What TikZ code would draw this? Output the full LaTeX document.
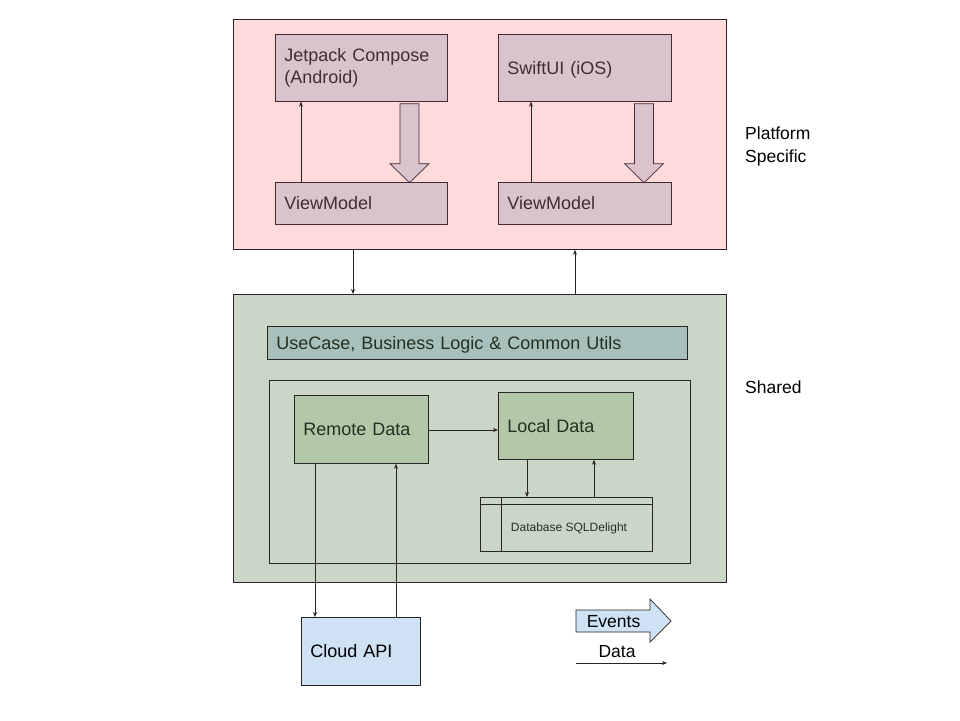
\documentclass[tikz,border=0pt]{standalone}
\usepackage{fontspec}
\setmainfont{Liberation Sans}
\usetikzlibrary{calc,arrows.meta}
\definecolor{pinkbg}{RGB}{255,218,218}
\definecolor{mauve}{RGB}{219,195,206}
\definecolor{greenbg}{RGB}{202,214,198}
\definecolor{usecase}{RGB}{168,192,188}
\definecolor{datag}{RGB}{178,200,169}
\definecolor{cloud}{RGB}{207,226,243}
\definecolor{pinktxt}{RGB}{66,44,50}
\definecolor{greentxt}{RGB}{36,48,34}
\definecolor{edge}{RGB}{40,36,36}
\tikzset{
  region/.style={draw=edge, line width=0.8pt, anchor=north west, inner sep=0pt},
  pbox/.style={draw=pinktxt, line width=0.7pt, fill=mauve, anchor=north west, text=pinktxt,
    font=\fontsize{18}{22}\selectfont, align=left, inner xsep=9pt, inner ysep=0pt, text depth=0pt},
  gbox/.style={draw=edge, line width=0.7pt, anchor=north west, text=greentxt,
    font=\fontsize{18}{22}\selectfont, align=left, inner xsep=9pt, inner ysep=0pt, text depth=0pt},
  arr/.style={draw=edge, line width=0.7pt, -{Stealth[length=5pt,width=4pt]}},
  fat/.style={draw=pinktxt, line width=0.7pt, fill=mauve, line join=miter},
  side/.style={anchor=west, align=left, text=black, inner sep=0pt, font=\fontsize{17.5}{23}\selectfont},
}
\begin{document}
\begin{tikzpicture}[x=1pt,y=-1pt]
\useasboundingbox (0,0) rectangle (960,720);
\fill[white] (0,0) rectangle (960,720);

% platform region
\node[region, fill=pinkbg, minimum width=493, minimum height=230] (pink) at (233,19) {};
\node[pbox, text depth={}, minimum width=172, minimum height=67, text width=154] (jc) at (275,34) {Jetpack Compose\\(Android)};
\node[pbox, minimum width=173, minimum height=67, text width=155] (sw) at (498,34) {SwiftUI (iOS)};
\node[pbox, minimum width=172, minimum height=42, text width=154] (vm1) at (275,182) {ViewModel};
\node[pbox, minimum width=173, minimum height=42, text width=155] (vm2) at (498,182) {ViewModel};

\draw[arr] ([xshift=26pt]vm1.north west) -- ([xshift=26pt]jc.south west);
\draw[arr] ([xshift=33pt]vm2.north west) -- ([xshift=33pt]sw.south west);

\draw[fat] ($(jc.south west)+(125,2)$) -- ($(jc.south west)+(144,2)$) -- ($(jc.south west)+(144,62)$)
  -- ($(jc.south west)+(154,62)$) -- ($(jc.south west)+(134.5,81)$) -- ($(jc.south west)+(115,62)$)
  -- ($(jc.south west)+(125,62)$) -- cycle;
\draw[fat] ($(sw.south west)+(136.5,2)$) -- ($(sw.south west)+(155.5,2)$) -- ($(sw.south west)+(155.5,62)$)
  -- ($(sw.south west)+(165.5,62)$) -- ($(sw.south west)+(146,81)$) -- ($(sw.south west)+(126.5,62)$)
  -- ($(sw.south west)+(136.5,62)$) -- cycle;

% shared region
\node[region, fill=greenbg, minimum width=493, minimum height=288] (green) at (233,294) {};
\draw[arr] ([xshift=120pt]pink.south west) -- ([xshift=120pt]green.north west);
\draw[arr] ([xshift=342pt]green.north west) -- ([xshift=342pt]pink.south west);

\node[gbox, fill=usecase, minimum width=420, minimum height=33, text width=402] (uc) at (267,326) {UseCase, Business Logic \& Common Utils};
\node[region, minimum width=421, minimum height=183] (inner) at (269,380) {};
\node[gbox, fill=datag, minimum width=134, minimum height=68, text width=116] (rd) at (294,395) {Remote Data};
\node[gbox, fill=datag, minimum width=135, minimum height=67, text width=117] (ld) at (498,392) {Local Data};
\node[draw=edge, line width=0.7pt, anchor=north west, minimum width=172, minimum height=54, inner sep=0pt] (db) at (480,497) {};
\node[text=greentxt, font=\fontsize{12}{14}\selectfont, inner sep=0pt] (dbt) at ([yshift=-31pt,xshift=89pt]db.north west) {Database SQLDelight};
\draw[edge, line width=0.7pt] ([yshift=-7pt]db.north west) -- ([yshift=-7pt]db.north east);
\draw[edge, line width=0.7pt] ([xshift=21pt]db.north west) -- ([xshift=21pt]db.south west);

\draw[arr] (rd.east |- 0,430) -- (ld.west |- 0,430);
\draw[arr] ([xshift=29pt]ld.south west) -- ([xshift=47pt]db.north west);
\draw[arr] ([xshift=114pt]db.north west) -- ([xshift=96pt]ld.south west);

% cloud
\node[gbox, fill=cloud, draw=edge, text=black, minimum width=119, minimum height=68, text width=101] (api) at (301,617) {Cloud API};
\draw[arr] ([xshift=21pt]rd.south west) -- ([xshift=14pt]api.north west);
\draw[arr] ([xshift=95pt]api.north west) -- ([xshift=102pt]rd.south west);

% side labels
\node[side] (plat) at (745,146) {Platform\\Specific};
\node[side] (shared) at (745,387) {Shared};

% legend
\fill[cloud] (576,610) -- (650,610) -- (650,599) -- (671,621) -- (650,642) -- (650,632) -- (576,632) -- cycle;
\draw[edge, line width=0.7pt] (576,610) -- (650,610) -- (650,599) -- (671,621) -- (650,642) -- (650,632) -- (576,632) -- cycle;
\node[font=\fontsize{17.5}{20}\selectfont, text=black] (ev) at (613.5,622) {Events};
\node[font=\fontsize{17.5}{20}\selectfont, text=black] (dt) at (617,652) {Data};
\coordinate (d1) at (576,663);
\coordinate (d2) at (667,663);
\draw[arr] (d1) -- (d2);
\end{tikzpicture}
\end{document}
